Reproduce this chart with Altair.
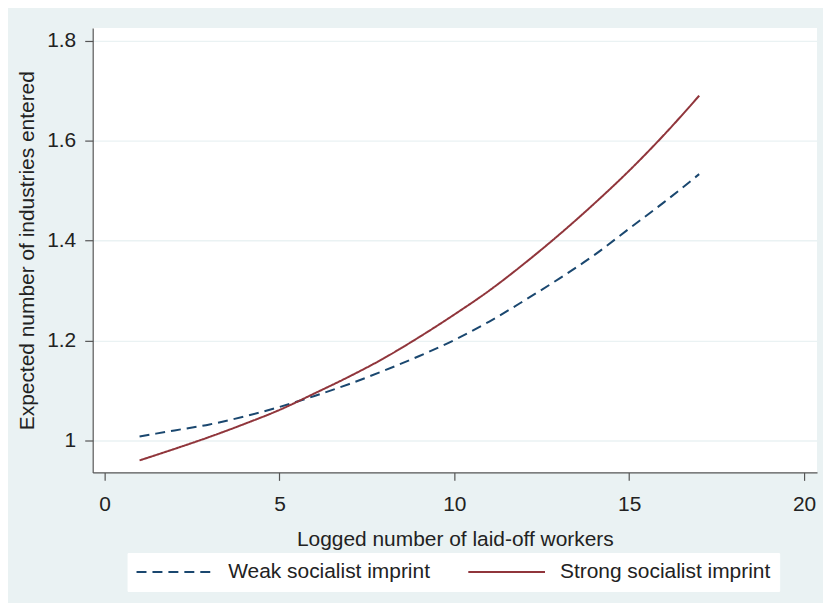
import altair as alt
import pandas as pd

# ---- data ----
x_vals = list(range(1, 18))
weak = [1.008, 1.020, 1.032, 1.048, 1.067, 1.089, 1.113, 1.140, 1.169, 1.201,
        1.238, 1.280, 1.324, 1.371, 1.424, 1.477, 1.533]
strong = [0.960, 0.983, 1.007, 1.033, 1.061, 1.094, 1.128, 1.165, 1.207, 1.252,
          1.300, 1.354, 1.412, 1.474, 1.540, 1.612, 1.690]
series = ["Weak socialist imprint", "Strong socialist imprint"]
x_ticks = [0, 5, 10, 15, 20]
y_ticks = [1, 1.2, 1.4, 1.6, 1.8]

rows = []
for name, vals in zip(series, [weak, strong]):
    for xv, yv in zip(x_vals, vals):
        rows.append({"x": xv, "y": yv, "series": name})
df = pd.DataFrame(rows)

FONT = "Liberation Sans"
TXT = "#222222"
BG = "#EAF2F3"

legend = alt.Legend(
    title=None, orient="none", legendX=35, legendY=527,
    direction="horizontal", columns=2, clipHeight=22,
    symbolType="stroke", symbolSize=5929, symbolStrokeWidth=2,
    labelFont=FONT, labelFontSize=21, labelColor=TXT, labelLimit=400,
    labelOffset=14, columnPadding=37, padding=8,
    fillColor="white", strokeColor="white",
)

chart = alt.Chart(df).mark_line(strokeWidth=2, interpolate="monotone").encode(
    x=alt.X("x:Q", title="Logged number of laid-off workers",
            scale=alt.Scale(domain=[-0.34, 20.37], nice=False, zero=False),
            axis=alt.Axis(values=x_ticks, grid=False, tickSize=8, labelPadding=13,
                          titlePadding=14)),
    y=alt.Y("y:Q", title="Expected number of industries entered",
            scale=alt.Scale(domain=[0.936, 1.8255], nice=False, zero=False),
            axis=alt.Axis(values=y_ticks, format="~g", grid=True, gridColor=BG,
                          gridWidth=1.3, tickSize=8, labelPadding=9, titlePadding=9)),
    color=alt.Color("series:N", scale=alt.Scale(domain=series, range=["#1A476F", "#90353B"]),
                    legend=legend),
    strokeDash=alt.StrokeDash("series:N", scale=alt.Scale(domain=series, range=[[10, 6], [1, 0]]),
                              legend=legend),
).properties(
    width=727, height=446,
    autosize=alt.AutoSizeParams(type="none"),
    padding={"left": 85, "top": 19, "right": 6, "bottom": 130},
    background=BG,
).configure_view(
    fill="white", stroke=None
).configure_axis(
    labelFont=FONT, labelFontSize=21, labelColor=TXT,
    titleFont=FONT, titleFontSize=21, titleColor=TXT, titleFontWeight="normal",
    domainColor="#555555", tickColor="#555555", domainWidth=1.2, tickWidth=1.2,
)

chart.save("out.html", embed_options={"renderer": "svg", "actions": False})
